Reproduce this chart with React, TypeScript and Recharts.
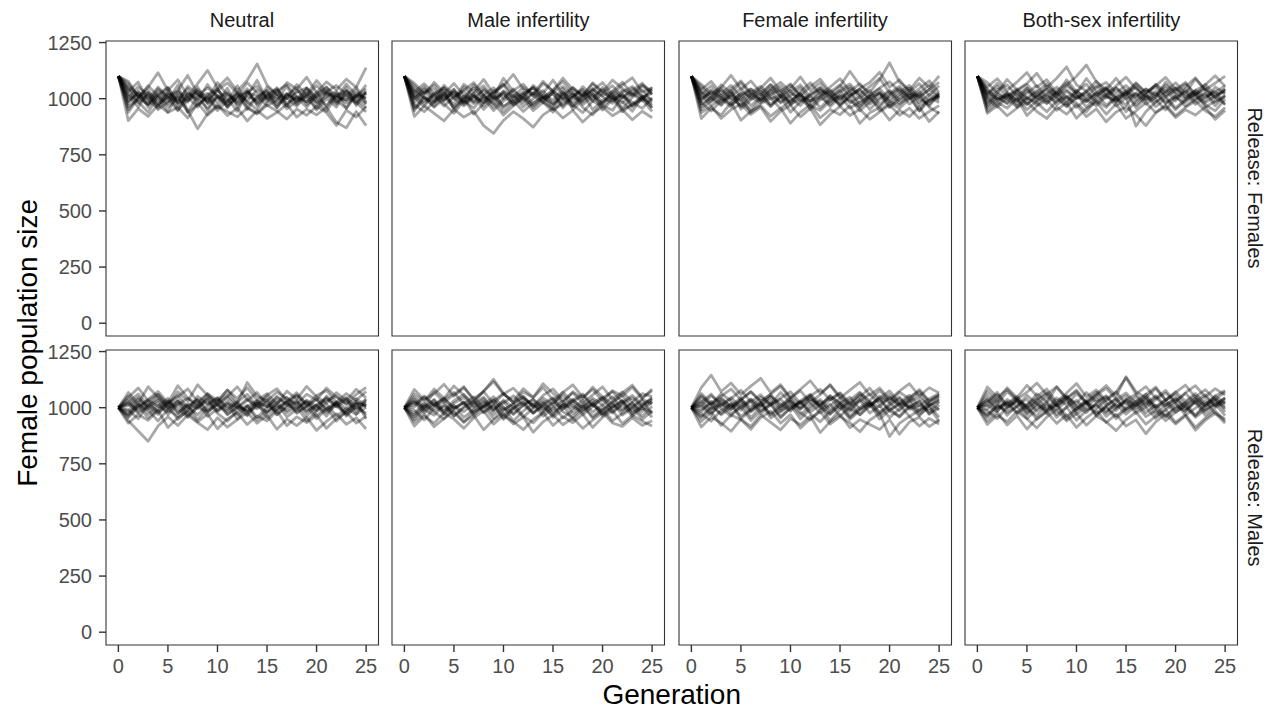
import React from "react";
import { LineChart, Line, XAxis, YAxis, ReferenceArea } from "recharts";

// ---------------- data ----------------
const GENERATIONS = [0, 1, 2, 3, 4, 5, 6, 7, 8, 9, 10, 11, 12, 13, 14, 15, 16, 17, 18, 19, 20, 21, 22, 23, 24, 25];
const X_TICKS = [0, 5, 10, 15, 20, 25];
const Y_TICKS = [0, 250, 500, 750, 1000, 1250];
const TREATMENTS = ["Neutral", "Male infertility", "Female infertility", "Both-sex infertility"];
const RELEASES = ["Release: Females", "Release: Males"];

const FEMALES_NEUTRAL = [
  [1100,1042,981,1015,968,1027,993,1046,972,1011,958,1023,989,1034,976,1008,1049,967,1012,985,1031,962,1018,994,1040,978],
  [1100,987,1036,962,1019,1051,978,1003,1029,947,1012,986,1058,971,1004,1037,959,1021,998,1045,973,1009,1032,957,1016,1003],
  [1100,1068,1012,974,1033,989,1061,942,1007,1024,981,1047,963,1015,1082,996,1021,968,1039,1002,956,1028,981,1050,969,1024],
  [1100,951,1008,1039,977,1004,946,1022,991,1063,1005,968,1031,987,952,1019,1044,979,1006,962,1017,1053,988,1010,977,1035],
  [1100,1015,962,1027,1004,941,1019,985,1052,978,1036,1001,944,1027,1012,968,993,1056,974,1029,991,944,1011,1038,996,959],
  [1100,1032,1074,991,958,1013,1037,1104,1021,986,1049,959,1012,1071,1026,987,1038,1002,1063,1017,1081,1029,1000,1066,1014,1045],
  [1100,902,956,921,973,938,962,914,981,927,966,943,919,958,932,971,945,909,954,926,967,938,881,949,918,964],
  [1100,1047,1003,1058,1012,977,1034,1006,962,1018,1043,985,1027,952,1009,1036,998,1024,981,1047,1003,969,1026,1012,1052,984],
  [1100,993,1021,978,1044,1009,985,1056,1017,992,1038,1070,1024,989,1041,1003,961,1018,990,1008,1059,1016,975,1033,1007,1027],
  [1100,1078,1009,1051,1116,1037,1084,1012,1067,1126,1049,1093,1034,1082,1155,1061,1019,1072,1043,1096,1028,1075,1039,1087,1051,1138],
  [1100,964,997,1026,951,985,1014,938,972,1005,947,991,1019,962,936,981,1012,955,988,1023,949,1001,962,1030,984,941],
  [1100,1021,986,940,1009,1048,983,1027,999,957,1016,975,1002,1044,969,1027,984,1015,1048,973,1008,1036,991,958,1024,1001],
  [1100,939,1002,973,1017,962,1006,947,866,933,972,925,958,901,947,912,939,975,918,953,928,961,895,870,943,880],
  [1100,1006,1053,1017,989,1034,968,1009,1041,1001,1072,1016,983,1028,1057,1003,1035,1062,1007,985,1021,1049,1014,981,1005,1062],
  [1100,1055,1017,996,1052,1003,1029,991,1016,1048,1012,963,1006,1031,984,1052,1019,1000,1028,1049,1004,1032,1059,1019,986,1029],
  [1100,977,1029,1005,972,1022,951,993,1034,980,1003,1028,975,1010,992,1018,973,1003,966,1015,984,1025,1007,993,1012,975],
];

const FEMALES_MALE_INF = [
  [1100,1008,964,1027,989,1043,974,1012,985,1037,961,1004,1030,977,1018,994,1046,968,1009,1035,982,1021,957,1006,1039,988],
  [1100,1037,1001,966,1018,975,1052,1010,983,1028,1063,997,1025,1049,1011,968,1026,1001,1054,1013,977,1035,1002,1047,1008,1024],
  [1100,962,1006,984,1039,951,997,1025,968,1011,942,986,1019,960,1004,979,1032,951,995,1022,970,948,1012,984,957,1003],
  [1100,1059,1019,1073,1028,997,1064,1031,1086,1022,1057,1108,1043,1012,1068,1035,1092,1040,1014,1071,1030,1083,1046,1019,1062,1034],
  [1100,998,1045,1012,967,1009,1033,985,1018,961,1002,1044,993,1027,985,940,996,1029,974,1007,1041,989,1023,968,1013,996],
  [1100,921,968,935,901,952,918,944,880,846,903,942,911,873,928,957,914,948,896,937,962,924,951,906,944,915],
  [1100,1024,979,1015,1048,1003,968,1007,1039,995,1021,974,1010,1052,1006,1034,997,964,1016,1045,1008,979,1030,1055,1012,970],
  [1100,983,1027,1061,1008,1040,991,1062,1016,976,1034,1009,1051,1020,1078,1031,1004,1049,1015,1066,1027,1003,1038,1012,1057,1023],
  [1100,1046,1004,981,1026,962,1011,978,1003,947,989,1016,963,1000,1037,975,1008,984,1025,951,993,1019,987,944,1005,961],
  [1100,1011,1053,997,1022,1068,1015,989,1044,1008,1091,1033,1002,1059,1024,1083,1017,1050,1006,1037,1072,1018,1061,1093,1029,1048],
  [1100,954,991,1019,976,935,992,958,1013,981,927,969,1002,947,985,956,1023,972,938,990,965,1003,941,977,1007,958],
  [1100,1028,1067,1022,1050,1009,1038,1072,1017,1049,1000,1037,1065,1014,981,1030,1054,1011,1042,987,1023,1058,1004,1036,1069,1019],
  [1100,973,942,986,1012,958,1003,931,979,1014,966,991,943,982,1007,951,977,1019,961,928,984,1006,952,973,996,943],
  [1100,1002,1032,990,1060,1019,983,1024,1058,1002,1033,985,1018,1047,991,1024,968,1012,1036,994,1050,1007,981,1025,1001,1040],
  [1100,1069,1025,1045,993,1031,1005,1049,999,1029,1066,1019,980,1026,1004,1039,1076,1022,993,1044,1013,1031,1074,1020,990,1052],
  [1100,945,1012,962,999,1027,981,1015,952,998,1025,970,1006,968,1000,1023,959,1008,985,1021,949,997,1018,963,1001,981],
];

const FEMALES_FEMALE_INF = [
  [1100,1029,985,1047,1003,969,1021,994,1037,980,1011,1050,989,1024,964,1007,1033,978,1016,1045,997,1030,976,1012,1041,1000],
  [1100,964,1010,975,1031,988,948,1002,967,1014,983,1026,951,995,1019,972,1004,946,985,1021,960,997,1028,969,992,1013],
  [1100,1053,1008,1062,1025,1071,1017,1048,1092,1034,1066,1013,1054,1087,1029,1061,1008,1046,1072,1118,1051,1084,1030,1067,1015,1058],
  [1100,987,1034,1001,963,1016,1042,990,1025,1057,1004,969,1019,1040,985,1029,1055,1002,1037,973,1018,1046,999,1024,1062,1007],
  [1100,1016,968,1001,1038,953,994,1021,975,1008,940,986,1013,960,1002,1037,981,1009,952,996,1030,978,1006,945,992,1025],
  [1100,938,967,912,951,976,930,962,899,944,971,919,957,884,930,966,925,953,908,941,972,926,958,912,943,969],
  [1100,1041,1077,1023,1059,1006,1044,1015,1062,1027,984,1032,1071,1020,1052,1089,1033,1067,1015,1048,1076,1031,1059,1005,1040,1073],
  [1100,1002,1026,987,1011,1046,999,1031,965,1004,1036,988,1022,1051,1008,975,1014,1043,991,1027,965,1010,1038,981,1019,994],
  [1100,975,1004,1040,992,1022,968,1009,1046,1012,971,1017,990,1008,1040,997,1026,964,1003,1031,984,1019,1047,996,975,1014],
  [1100,1064,1021,1050,1104,1043,1079,1027,1063,1011,1045,1097,1036,1071,1017,1056,1122,1060,1028,1085,1160,1074,1038,1092,1049,1101],
  [1100,950,992,1018,971,1006,939,978,1003,955,993,1022,969,948,990,1012,958,985,1013,946,981,957,999,1020,962,935],
  [1100,1033,1000,970,1015,992,1028,1056,1012,985,1024,1004,973,1011,1033,988,1047,1017,975,1005,1038,992,1023,1011,967,1026],
  [1100,912,958,927,983,904,944,969,922,958,891,939,973,915,952,929,968,890,937,961,905,949,920,963,898,942],
  [1100,1019,1058,1012,1044,1079,1026,994,1041,1073,1030,1062,1009,1048,1003,1039,1066,1018,1054,1091,1025,1056,1012,1045,1080,1027],
  [1100,996,1040,1005,975,1030,1009,1043,998,1019,1061,1012,987,1036,1021,966,1015,1039,1001,962,1012,1041,1005,1032,987,1018],
  [1100,982,945,991,1024,963,1008,982,1017,1040,975,999,959,1005,974,1017,990,962,1009,1024,988,972,1016,946,1004,983],
];

const FEMALES_BOTH_INF = [
  [1100,1010,973,1028,992,1047,1006,978,1031,989,1020,962,1008,1042,985,1015,1051,996,1023,977,1010,1036,991,1024,968,1013],
  [1100,1046,1002,981,1035,1063,1017,1044,1006,1058,1026,1090,1034,1003,1047,1016,1071,1025,1052,1008,1037,1066,1019,1050,1001,1039],
  [1100,957,998,1022,966,1004,983,942,989,1011,961,998,1025,970,1007,942,986,1019,964,1001,951,992,1027,973,946,997],
  [1100,1072,1025,1086,1039,1068,1113,1050,1091,1142,1062,1034,1078,1021,1057,1096,1044,1013,1065,1032,1071,1023,1088,1040,1069,1101],
  [1100,984,1030,995,1018,975,1009,1041,1000,964,1012,986,1019,1047,1003,972,1026,990,1013,1049,1005,983,1018,1042,1007,976],
  [1100,935,969,924,958,986,943,912,962,931,974,920,955,897,941,963,928,880,937,966,916,951,927,963,908,948],
  [1100,1023,1054,1009,1037,995,1028,1067,1015,1040,1003,1031,1058,1012,985,1032,1005,1044,1017,1061,1023,997,1039,1006,1030,1057],
  [1100,999,962,1006,1032,974,1017,993,1024,978,1038,996,968,1010,991,1022,960,1005,1034,981,1011,966,1000,1025,984,1017],
  [1100,1037,998,1016,977,1025,1058,1004,1035,1071,1019,988,1027,1052,1010,1039,993,1027,1062,1014,1046,1008,1031,990,1052,1022],
  [1100,966,1012,978,1003,951,990,1026,972,1008,981,941,996,1021,967,1004,878,942,985,1011,959,997,1019,962,989,1008],
  [1100,1053,1089,1037,1074,1117,1052,1085,1023,1061,1100,1150,1076,1040,1091,1033,1067,1029,1058,1095,1041,1073,1018,1062,1102,1055],
  [1100,1005,1039,1061,1013,1048,989,1019,1052,1004,1030,1065,1012,1043,1000,1026,1054,1008,983,1029,1050,1007,1036,1064,1018,1030],
  [1100,943,984,958,1001,925,967,994,948,983,913,956,986,931,977,912,945,982,939,971,925,962,990,946,921,961],
  [1100,1028,991,1013,1044,1004,972,1011,986,1033,999,1025,980,1016,1049,1000,1023,976,1006,1033,990,1045,1009,981,1014,1042],
  [1100,975,1020,1000,962,1004,1037,981,1009,967,1003,1034,992,961,1005,1028,971,1013,996,950,1002,1029,975,1008,1034,972],
  [1100,1017,1069,1026,989,1035,1002,1056,1020,1084,1031,1008,1050,1072,1026,1059,1011,1043,1006,1074,1025,1053,1093,1038,1005,1044],
];

const MALES_NEUTRAL = [
  [1000,1034,982,1016,1057,998,1029,970,1012,1043,986,1021,1001,964,1018,1047,991,1026,975,1008,1039,994,1022,962,1011,1035],
  [1000,962,1009,955,994,1026,977,1011,948,996,1032,968,1004,987,1020,955,997,1030,979,1005,951,993,1024,968,1002,976],
  [1000,1068,1019,1093,1046,1008,1071,1030,1102,1055,1024,1078,1041,1089,1033,1062,1016,1074,1038,1095,1049,1020,1067,1031,1082,1044],
  [1000,985,1040,1003,970,1022,1055,1001,1036,979,1015,1046,998,1031,1068,1012,983,1026,1054,1004,1037,986,1018,1046,999,1027],
  [1000,942,896,851,918,960,921,967,934,902,955,913,947,978,931,966,904,949,920,957,899,939,973,926,955,905],
  [1000,1017,975,1004,1033,990,961,1008,1036,987,1015,972,1002,1040,995,1027,968,1009,1034,980,1014,1045,1006,975,1021,1009],
  [1000,1045,1088,1031,1060,1016,1049,1084,1027,1061,1010,1050,1093,1036,1008,1056,1085,1029,1067,1012,1054,1077,1025,1063,1033,1072],
  [1000,973,1014,989,941,992,1016,962,1003,1027,975,940,986,1010,957,999,1032,977,1006,941,985,1017,963,997,1029,951],
  [1000,1026,1061,1008,1041,1000,1035,985,1051,1015,1044,1001,1027,968,1021,1004,1045,1012,1058,1019,987,1031,1052,1014,1040,1007],
  [1000,955,1003,1029,978,1012,948,989,1021,961,994,1030,970,1008,945,983,1015,959,992,1026,965,1000,940,985,1017,966],
  [1000,1009,1047,994,1023,969,1014,1042,1003,980,1026,1058,1011,985,1032,1003,1051,1016,991,1034,1006,1040,1004,1033,988,1019],
  [1000,990,951,1012,985,1031,996,956,1004,1037,982,1016,949,1005,1031,975,1010,987,1022,963,1007,978,1010,1041,972,1002],
  [1000,1052,1008,1037,1072,1021,1098,1043,1015,1063,1032,1079,1020,1112,1051,1030,1070,1041,1016,1060,1035,1088,1047,1018,1059,1090],
  [1000,931,970,944,988,912,955,983,937,972,906,950,977,925,963,941,986,920,959,934,967,908,951,980,932,961],
  [1000,1021,993,1035,1006,1042,975,1019,995,1048,1011,984,1025,1060,1008,981,1022,1047,1002,1030,990,1052,1013,984,1026,1003],
  [1000,968,1025,972,1010,981,1028,1003,969,1012,1044,991,1017,981,1003,1035,970,1001,1028,985,1012,962,1027,997,970,1039],
];

const MALES_MALE_INF = [
  [1000,1022,977,1009,1041,996,1024,966,1005,1036,988,1017,1049,999,1022,973,1011,1038,990,1018,963,1002,1031,986,1014,1040],
  [1000,958,1001,1033,975,1010,957,992,1024,969,1003,941,985,1019,962,998,1030,974,1009,953,991,1025,967,999,1033,972],
  [1000,1061,1029,1083,1042,1097,1055,1020,1074,1116,1060,1031,1085,1046,1107,1063,1022,1071,1039,1092,1048,1017,1066,1101,1045,1075],
  [1000,1003,1048,1012,984,1031,1059,1006,1040,985,1021,1053,1011,976,1019,1044,1002,1033,1061,1010,986,1027,1052,1004,1039,1015],
  [1000,936,972,915,952,987,938,965,902,946,974,927,958,891,937,968,924,955,908,944,979,932,917,955,921,942],
  [1000,1030,989,1016,1043,997,1026,980,1013,1049,1001,970,1013,1036,991,1022,1055,1006,979,1021,1048,995,1027,971,1008,1037],
  [1000,975,1020,986,1006,963,999,1028,977,1010,954,1000,1024,978,1012,957,995,1021,968,1006,1040,981,1014,962,1001,980],
  [1000,1048,1007,1070,1025,1058,1094,1033,1072,1018,1061,1087,1040,1009,1055,1084,1031,1066,1021,1057,1093,1036,1070,1026,1063,1049],
  [1000,989,945,998,1027,962,1004,1032,981,1016,947,993,1026,975,1008,1039,982,958,1004,1033,972,1012,985,1024,962,1006],
  [1000,1014,1052,1010,1037,1068,1016,1048,999,1031,1064,1021,1051,1005,1043,1012,1069,1026,1053,1008,1044,1072,1024,1055,1011,1046],
  [1000,947,991,966,1013,978,934,983,1008,951,990,1017,963,932,978,1007,955,989,1016,960,996,941,975,1004,948,986],
  [1000,1027,1001,1037,985,1020,1046,999,1029,988,1034,1000,1041,1013,983,1026,994,1031,1002,1043,1011,976,1019,1044,1003,1027],
  [1000,966,1010,981,949,995,1021,972,1006,1032,969,1001,958,999,1030,983,1013,947,990,1018,971,1005,1032,976,1001,957],
  [1000,1081,1036,1062,1104,1051,1089,1039,1073,1127,1064,1022,1070,1045,1090,1034,1068,1102,1047,1081,1030,1076,1052,1091,1041,1083],
  [1000,918,962,931,977,949,908,955,986,927,965,938,902,948,979,921,960,933,971,912,957,988,929,966,940,918],
  [1000,1039,993,1021,968,1009,982,1017,1047,995,1028,973,1010,1037,1002,966,1016,998,1033,980,1012,1049,991,1020,983,1028],
];

const MALES_FEMALE_INF = [
  [1000,1047,1012,1064,1029,989,1038,1006,1052,1017,984,1031,1060,1015,1043,998,1035,1069,1021,1004,1047,1012,1039,990,1026,1051],
  [1000,961,1004,973,1019,950,991,1025,967,999,1032,978,945,991,1016,962,1003,1034,976,1009,956,994,1027,970,1002,939],
  [1000,1089,1145,1072,1110,1058,1096,1131,1067,1103,1045,1082,1120,1064,1099,1043,1078,1113,1056,1088,1036,1074,1107,1051,1089,1066],
  [1000,1018,977,1012,1046,1001,1027,972,1014,1038,990,1024,1056,1003,970,1019,1047,993,1024,981,1008,1041,999,1030,971,1013],
  [1000,938,981,921,967,946,904,956,985,931,969,909,951,982,927,960,933,893,944,975,872,930,961,918,952,927],
  [1000,1009,1053,1021,990,1036,1002,1047,1014,1068,1023,995,1041,1007,1052,1018,983,1030,1061,1016,1044,1005,1033,1062,1009,1040],
  [1000,982,1029,996,963,1010,1037,985,1021,954,1000,1028,981,1013,942,991,1024,968,1007,1036,984,962,1010,982,1019,992],
  [1000,1063,1019,1051,1083,1035,1072,1027,1060,1095,1041,1076,1023,1058,1103,1049,1014,1064,1032,1077,1026,1069,1040,1081,1030,1059],
  [1000,955,997,1016,972,1003,943,986,1013,960,998,1027,974,937,983,1012,956,994,1019,949,990,1015,961,988,1008,958],
  [1000,1031,992,1038,1007,1045,981,1016,1049,995,1030,1001,1039,1011,1054,1019,991,1038,1003,1052,1021,986,1029,1044,1011,1035],
  [1000,914,958,932,895,949,917,968,935,901,952,924,963,889,938,970,911,947,925,903,946,882,936,957,916,945],
  [1000,1025,1061,1006,1040,1078,1026,1058,1011,1043,1071,1019,1052,1082,1035,1063,1010,1049,1087,1031,1059,1017,1047,1074,1028,1052],
  [1000,992,1021,968,1004,1030,985,1018,972,1011,1039,994,1022,977,1009,1041,996,969,1014,1043,987,1021,1005,963,1010,1028],
  [1000,973,940,988,1017,961,993,1024,954,985,1011,950,996,1029,973,1004,948,988,1015,967,999,958,1002,1029,973,996],
  [1000,1054,1011,1045,1003,1037,1070,1028,1059,1004,1048,1016,1050,995,1036,1067,1022,1055,1010,1043,1075,1024,1056,1008,1040,1063],
  [1000,1006,968,1030,994,1022,956,1005,1033,981,1016,969,1008,1037,990,1025,962,1003,1029,975,1017,1048,993,1012,984,1025],
];

const MALES_BOTH_INF = [
  [1000,1035,987,1019,1050,998,1027,972,1011,1044,990,1022,962,1009,1038,985,1014,1047,996,1023,978,1010,1039,991,1026,1003],
  [1000,964,1012,978,1005,951,993,1029,970,1003,944,988,1016,961,997,1027,975,1002,953,990,1021,967,998,1032,974,950],
  [1000,1073,1030,1089,1044,1100,1052,1083,1027,1065,1108,1048,1079,1030,1070,1133,1061,1094,1043,1077,1025,1067,1098,1049,1085,1056],
  [1000,1008,1043,1001,1032,976,1015,1048,1006,1036,983,1019,1053,1010,1040,992,1027,1061,1004,1035,989,1024,1051,1007,1037,1015],
  [1000,941,979,923,964,905,952,981,930,968,912,955,989,934,970,918,946,884,937,972,927,963,900,944,975,931],
  [1000,1021,1059,1014,1043,1003,1038,1067,1019,1050,1005,1032,1069,1024,987,1035,1060,1012,1046,1001,1029,1064,1017,1049,1006,1038],
  [1000,986,951,1003,1026,969,1011,982,1017,948,995,1028,974,1006,962,1000,1031,977,1012,959,998,1023,964,1007,1033,981],
  [1000,1054,1016,1071,1032,1009,1062,1026,1091,1040,1073,1018,1055,1086,1037,1066,1021,1058,1092,1034,1071,1029,1063,1014,1052,1077],
  [1000,970,1008,989,1035,995,964,1012,990,1031,970,1003,1040,982,1016,971,1008,1037,993,961,1007,984,1025,966,999,1027],
  [1000,1039,998,1027,979,1016,1045,993,1024,1055,1008,977,1020,1049,1001,1034,986,1019,1053,1010,1040,995,1028,981,1015,1044],
  [1000,925,966,938,983,951,910,958,991,941,975,922,963,937,898,946,980,927,961,992,935,969,913,954,986,940],
  [1000,1012,981,1037,1004,1055,1017,990,1043,1011,1062,1025,997,1038,1071,1015,1049,1002,1036,1066,1020,983,1031,1058,1009,1045],
  [1000,993,1030,966,1009,1038,984,1021,957,1001,1033,989,1013,976,1025,1054,998,1030,971,1012,1042,1000,966,1018,1043,994],
  [1000,1092,1047,1081,1036,1069,1110,1058,1094,1042,1078,1024,1061,1099,1051,1138,1072,1044,1086,1033,1068,1101,1047,1080,1036,1071],
  [1000,957,999,1021,973,1006,947,988,1014,962,997,1026,968,1002,951,993,1018,960,987,942,981,1008,957,991,1016,965],
  [1000,1027,1069,1005,1038,987,1031,1061,1007,1047,1019,1068,1026,1053,1004,1037,1009,1045,1002,1035,1058,1013,1041,1007,1052,1020],
];

const PANEL_RUNS = [
  [FEMALES_NEUTRAL, FEMALES_MALE_INF, FEMALES_FEMALE_INF, FEMALES_BOTH_INF],
  [MALES_NEUTRAL, MALES_MALE_INF, MALES_FEMALE_INF, MALES_BOTH_INF],
];

// ---------------- layout ----------------
const FONT = '"Liberation Sans", Arial, Helvetica, sans-serif';
const PANEL_W = 272.5;
const PANEL_H = 295;
const COL_LEFT = [105.7, 392.2, 678.7, 965.2];
const ROW_TOP = [40.5, 350.2];
const X_DOMAIN: [number, number] = [-1.25, 26.25];
const Y_DOMAIN: [number, number] = [-57, 1257];
const ML = 100;
const MT = 10;
const MR = 6;
const XH = 50;

function buildRows(runs: number[][]) {
  return GENERATIONS.map((g, i) => {
    const row: Record<string, number> = { gen: g };
    runs.forEach((run, k) => {
      row["r" + k] = run[i];
    });
    return row;
  });
}

function Panel({ runs, col, row }: { runs: number[][]; col: number; row: number }) {
  const showY = col === 0;
  const showX = row === 1;
  const data = buildRows(runs);
  const width = ML + PANEL_W + MR;
  const height = MT + PANEL_H + (showX ? XH : 6);
  const tickStyle = { fill: "#4D4D4D", fontSize: 20, fontFamily: FONT };
  return (
    <div style={{ position: "absolute", left: COL_LEFT[col] - ML, top: ROW_TOP[row] - MT }}>
      <LineChart
        width={width}
        height={height}
        data={data}
        margin={{ top: MT, right: MR, bottom: showX ? 0 : 6, left: showY ? 0 : ML }}
      >
        <XAxis
          type="number"
          dataKey="gen"
          domain={X_DOMAIN}
          ticks={X_TICKS}
          interval={0}
          allowDataOverflow
          hide={!showX}
          height={XH}
          axisLine={false}
          tickSize={7}
          tickMargin={7}
          tickLine={{ stroke: "#333333", strokeWidth: 1.4 }}
          tick={tickStyle}
        />
        <YAxis
          type="number"
          domain={Y_DOMAIN}
          ticks={Y_TICKS}
          interval={0}
          allowDataOverflow
          hide={!showY}
          width={ML}
          axisLine={false}
          tickSize={7}
          tickMargin={7}
          tickLine={{ stroke: "#333333", strokeWidth: 1.4 }}
          tick={tickStyle}
        />
        {runs.map((_, k) => (
          <Line
            key={k}
            type="linear"
            dataKey={"r" + k}
            stroke="#000000"
            strokeOpacity={0.34}
            strokeWidth={2.8}
            strokeLinejoin="round"
            dot={false}
            activeDot={false}
            isAnimationActive={false}
          />
        ))}
        <ReferenceArea
          x1={X_DOMAIN[0]}
          x2={X_DOMAIN[1]}
          y1={Y_DOMAIN[0]}
          y2={Y_DOMAIN[1]}
          fill="none"
          fillOpacity={0}
          stroke="#333333"
          strokeWidth={1.1}
          ifOverflow="visible"
        />
      </LineChart>
    </div>
  );
}

export default function App() {
  return (
    <div style={{ position: "absolute", left: 0, top: 0, width: 1277, height: 709, background: "#fff", fontFamily: FONT }}>
      {PANEL_RUNS.map((rowRuns, r) =>
        rowRuns.map((runs, c) => <Panel key={r + "-" + c} runs={runs} col={c} row={r} />)
      )}
      <svg
        width={1277}
        height={709}
        style={{ position: "absolute", left: 0, top: 0, pointerEvents: "none" }}
      >
        {TREATMENTS.map((t, c) => (
          <text
            key={t}
            x={COL_LEFT[c] + PANEL_W / 2}
            y={27}
            textAnchor="middle"
            fontSize={20}
            fill="#1A1A1A"
            fontFamily={FONT}
          >
            {t}
          </text>
        ))}
        {RELEASES.map((t, r) => (
          <text
            key={t}
            transform={`translate(1248, ${ROW_TOP[r] + PANEL_H / 2}) rotate(90)`}
            textAnchor="middle"
            fontSize={20}
            fill="#1A1A1A"
            fontFamily={FONT}
          >
            {t}
          </text>
        ))}
        <text
          transform={`translate(36.5, ${(ROW_TOP[0] + ROW_TOP[1] + PANEL_H) / 2}) rotate(-90)`}
          textAnchor="middle"
          fontSize={28}
          fill="#000000"
          fontFamily={FONT}
        >
          Female population size
        </text>
        <text
          x={COL_LEFT[0] + (COL_LEFT[3] + PANEL_W - COL_LEFT[0]) / 2}
          y={704}
          textAnchor="middle"
          fontSize={28}
          fill="#000000"
          fontFamily={FONT}
        >
          Generation
        </text>
      </svg>
    </div>
  );
}
